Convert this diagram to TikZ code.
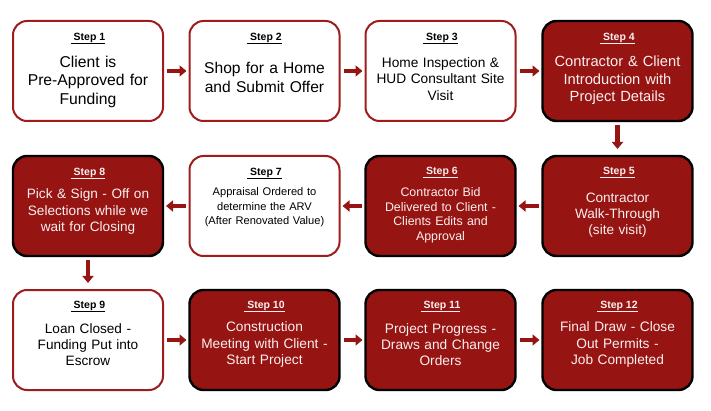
\documentclass[tikz,border=0pt]{standalone}
\usepackage{fontspec}
\setmainfont{Liberation Sans}
\usetikzlibrary{arrows.meta}
\definecolor{stepred}{RGB}{150,20,18}
\definecolor{edgered}{RGB}{158,28,28}
\definecolor{lighttext}{RGB}{250,240,240}
\tikzset{
 box/.style={rectangle, rounded corners=14pt, minimum width=150pt, minimum height=100pt, line width=2pt, outer sep=0pt},
 openbox/.style={box, draw=edgered, fill=white},
 fullbox/.style={box, draw=black, fill=stepred, line width=2.4pt},
 steplabel/.style={font=\fontsize{10.5}{12}\selectfont\bfseries, inner sep=0pt, yshift=-1.5pt},
 body/.style={align=center, inner sep=0pt, text width=146pt, yshift=-1.5pt},
 blk/.style={draw=stepred, line width=4.6pt, -{Triangle[length=7pt,width=11pt]}, shorten <=4pt, shorten >=3pt},
 vblk/.style={blk, shorten <=4pt, shorten >=7pt}
}
\newcommand{\stlab}[1]{\underline{\ Step #1}}
\begin{document}
\begin{tikzpicture}[x=1pt,y=-1pt]
\useasboundingbox (0,0) rectangle (711,411);
% row 1
\node[openbox] (s1) at (88,71) {};
\node[openbox] (s2) at (264.5,71) {};
\node[openbox] (s3) at (440.5,71) {};
\node[fullbox] (s4) at (617.5,71) {};
% row 2
\node[fullbox] (s8) at (88,206) {};
\node[openbox] (s7) at (264.5,206) {};
\node[fullbox] (s6) at (440.5,206) {};
\node[fullbox] (s5) at (617.5,206) {};
% row 3
\node[openbox] (s9) at (88,340) {};
\node[fullbox] (s10) at (264.5,340) {};
\node[fullbox] (s11) at (440.5,340) {};
\node[fullbox] (s12) at (617.5,340) {};

% labels
\node[steplabel] (l1) at (88,37) {\stlab{1}};
\node[steplabel] (l2) at (264.5,37) {\stlab{2}};
\node[steplabel] (l3) at (440.5,37) {\stlab{3}};
\node[steplabel, text=lighttext] (l4) at (617.5,37) {\stlab{4}};
\node[steplabel, text=lighttext] (l8) at (88,172) {\stlab{8}};
\node[steplabel] (l7) at (264.5,172) {\stlab{7}};
\node[steplabel, text=lighttext] (l6) at (440.5,171) {\stlab{6}};
\node[steplabel, text=lighttext] (l5) at (617.5,171) {\stlab{5}};
\node[steplabel] (l9) at (88,305) {\stlab{9}};
\node[steplabel, text=lighttext] (l10) at (264.5,305) {\stlab{10}};
\node[steplabel, text=lighttext] (l11) at (440.5,305) {\stlab{11}};
\node[steplabel, text=lighttext] (l12) at (617.5,305) {\stlab{12}};

% bodies
\node[body, font=\fontsize{15.7}{18.5}\selectfont] (b1) at (88,80) {Client is\\Pre-Approved for\\Funding};
\node[body, font=\fontsize{15.6}{18.6}\selectfont] (b2) at (264.5,76) {Shop for a Home\\and Submit Offer};
\node[body, font=\fontsize{13.7}{16.4}\selectfont] (b3) at (440.5,77.5) {Home Inspection \&\\HUD Consultant Site\\Visit};
\node[body, text=lighttext, font=\fontsize{14.7}{17.5}\selectfont] (b4) at (617.5,79) {Contractor \& Client\\Introduction with\\Project Details};
\node[body, text=lighttext, font=\fontsize{13.6}{16}\selectfont] (b5) at (617.5,214) {Contractor\\Walk-Through\\(site visit)};
\node[body, text=lighttext, font=\fontsize{12.4}{14.5}\selectfont] (b6) at (440.5,214) {Contractor Bid\\Delivered to Client -\\Clients Edits and\\Approval};
\node[body, font=\fontsize{11.1}{14.5}\selectfont] (b7) at (264.5,206) {Appraisal Ordered to\\determine the ARV\\(After Renovated Value)};
\node[body, text=lighttext, font=\fontsize{13.6}{16.3}\selectfont] (b8) at (88,210) {Pick \& Sign - Off on\\Selections while we\\wait for Closing};
\node[body, font=\fontsize{13.6}{16}\selectfont] (b9) at (88,343) {Loan Closed -\\Funding Put into\\Escrow};
\node[body, text=lighttext, font=\fontsize{13.7}{16.2}\selectfont] (b10) at (264.5,343) {Construction\\Meeting with Client -\\Start Project};
\node[body, text=lighttext, font=\fontsize{13.7}{16.2}\selectfont] (b11) at (440.5,343) {Project Progress -\\Draws and Change\\Orders};
\node[body, text=lighttext, font=\fontsize{13.7}{16.2}\selectfont] (b12) at (617.5,343) {Final Draw - Close\\Out Permits -\\Job Completed};

% arrows
\draw[blk] (s1.east) -- (s2.west);
\draw[blk] (s2.east) -- (s3.west);
\draw[blk] (s3.east) -- (s4.west);
\draw[vblk] (s4.south) -- (s5.north);
\draw[blk] (s5.west) -- (s6.east);
\draw[blk] (s6.west) -- (s7.east);
\draw[blk] (s7.west) -- (s8.east);
\draw[vblk] (s8.south) -- (s9.north);
\draw[blk] (s9.east) -- (s10.west);
\draw[blk] (s10.east) -- (s11.west);
\draw[blk] (s11.east) -- (s12.west);
\end{tikzpicture}
\end{document}
